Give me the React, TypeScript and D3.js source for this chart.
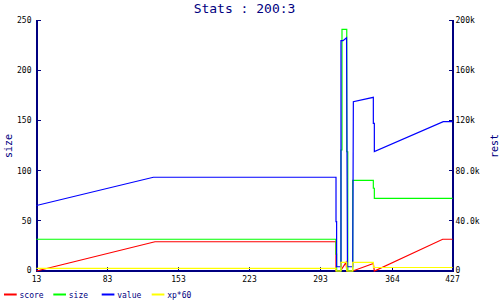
import React from "react";
import * as d3 from "d3";

// ---- data ----
const xTicks = [13, 83, 153, 223, 293, 364, 427];
const leftTicks = [0, 50, 100, 150, 200, 250];
const rightTicks = [0, 40000, 80000, 120000, 160000, 200000];

const scoreX = [13, 129.8, 308.3, 308.3, 312.7, 318.2, 318.9, 324.8, 345.1, 346.1, 416.7, 427];
const scoreV = [0, 23300, 23300, 0, 0, 6900, 0, 0, 6000, 0, 25300, 25300];

const sizeX = [13, 308.3, 308.3, 308.9, 308.9, 313.2, 313.2, 314.2, 314.2, 318.9, 318.9, 319.9, 319.9, 324.8, 324.8, 345.1, 345.1, 346.1, 346.1, 427];
const sizeV = [31.6, 31.6, 16.9, 16.9, 0, 0, 120.5, 120.5, 240.7, 240.7, 118.8, 118.8, 0, 0, 90.3, 90.3, 82.4, 82.4, 72.4, 72.4];

const valueX = [13, 128.2, 308.3, 308.3, 308.9, 308.9, 313.2, 313.2, 315.2, 318.7, 319.6, 324.8, 325.4, 345.1, 345.1, 346.1, 346.1, 417.3, 427];
const valueV = [52200, 74700, 74700, 39300, 39300, 3400, 3400, 183500, 183500, 185900, 3400, 3400, 134900, 138400, 117700, 117700, 95100, 119000, 119000];

const xpX = [13, 308.3, 308.3, 313.2, 313.2, 318.9, 318.9, 324.8, 324.8, 345.1, 345.1, 427];
const xpV = [2150, 2150, 0, 0, 6900, 6900, 0, 0, 6900, 6900, 2800, 2800];

const seriesNames = ["score", "size", "value", "xp*60"];
const seriesColors = ["#ff0000", "#00ff00", "#0000ff", "#ffff00"];

const NAVY = "#000080";
const FONT = "'DejaVu Sans Mono', 'Liberation Mono', monospace";

export default function App() {
  const W = 500, H = 300;
  const x = d3.scaleLinear().domain([13, 364, 427]).range([36.5, 392.5, 452.5]);
  const yL = d3.scaleLinear().domain([0, 250]).range([271, 20]);
  const yR = d3.scaleLinear().domain([0, 200000]).range([271, 20]);

  const mk = (xs: number[], vs: number[], ys: d3.ScaleLinear<number, number>) =>
    d3.line<number>().x((_, i) => x(xs[i])).y((v) => ys(v))(vs) || "";

  const paths = [
    mk(scoreX, scoreV, yR),
    mk(sizeX, sizeV, yL),
    mk(valueX, valueV, yR),
    mk(xpX, xpV, yR),
  ];

  const fmtR = (v: number) =>
    v === 0 ? "0" : v >= 100000 ? `${v / 1000}k` : `${(v / 1000).toFixed(1)}k`;

  const x0 = x(13), x1 = x(427), yb = yL(0), yt = yL(250);

  return (
    <svg width={W} height={H} style={{ position: "absolute", left: 0, top: 0, background: "#fff" }}
      fontFamily={FONT}>
      <rect width={W} height={H} fill="#fff" />
      <text x={244.5} y={13} textAnchor="middle" fontSize={13} fill={NAVY}>Stats : 200:3</text>

      {/* axes */}
      <g stroke={NAVY} strokeWidth={2} shapeRendering="crispEdges">
        <line x1={x0} x2={x0} y1={yt} y2={yb + 1} />
        <line x1={x1} x2={x1} y1={yt} y2={yb + 1} />
        <line x1={x0} x2={x1} y1={yb} y2={yb} />
      </g>
      <g stroke={NAVY} strokeWidth={1} shapeRendering="crispEdges">
        {leftTicks.map((t) => (
          <line key={"lt" + t} x1={x0} x2={x0 + 4} y1={yL(t)} y2={yL(t)} />
        ))}
        {rightTicks.map((t) => (
          <line key={"rt" + t} x1={x1 - 4} x2={x1} y1={yR(t)} y2={yR(t)} />
        ))}
        {xTicks.map((t) => (
          <line key={"xt" + t} x1={x(t)} x2={x(t)} y1={yb} y2={yb - 4} />
        ))}
      </g>
      <g fontSize={8} fill="#000">
        {leftTicks.map((t) => (
          <text key={"ll" + t} x={31.5} y={yL(t) + (t === 0 ? 2 : 3)} textAnchor="end">{t}</text>
        ))}
        {rightTicks.map((t) => (
          <text key={"rl" + t} x={455.5} y={yR(t) + (t === 0 ? 2 : 3)}>{fmtR(t)}</text>
        ))}
        {xTicks.map((t) => (
          <text key={"xl" + t} x={x(t)} y={281.5} textAnchor="middle">{t}</text>
        ))}
      </g>
      <text transform="translate(11.5,146) rotate(-90)" textAnchor="middle" fontSize={10} fill={NAVY}>size</text>
      <text transform="translate(497.5,146) rotate(-90)" textAnchor="middle" fontSize={10} fill={NAVY}>rest</text>

      {/* series */}
      <g fill="none" strokeWidth={1.2}>
        {paths.map((d, i) => (
          <path key={"p" + i} d={d} stroke={seriesColors[i]} />
        ))}
      </g>

      {/* legend */}
      <g fontSize={8} fill={NAVY}>
        {seriesNames.map((n, i) => {
          const lx = [4, 53.3, 101.7, 151.7][i];
          return (
            <g key={"lg" + n}>
              <line x1={lx} x2={lx + 12.7} y1={294.5} y2={294.5} stroke={seriesColors[i]} strokeWidth={2} />
              <text x={lx + 15.5} y={297.5}>{n}</text>
            </g>
          );
        })}
      </g>
    </svg>
  );
}
